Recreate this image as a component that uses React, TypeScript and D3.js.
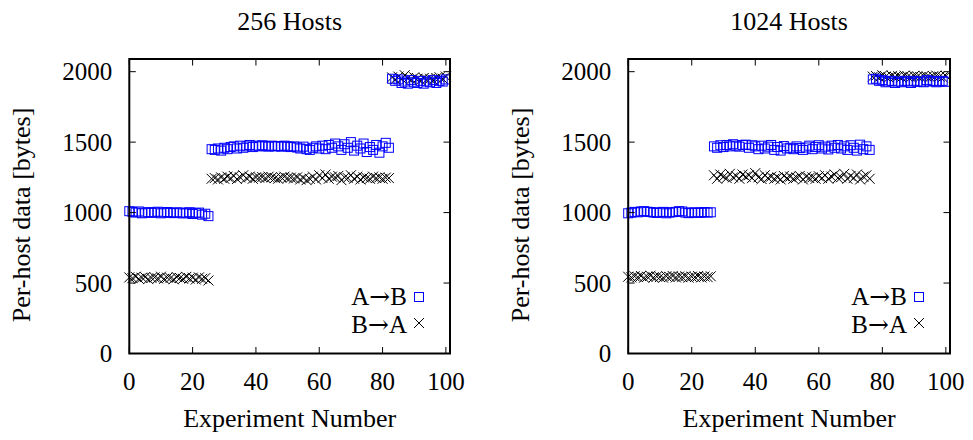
import React from "react";
import * as d3 from "d3";

const titles = ["256 Hosts", "1024 Hosts"];
const xTicks = [0, 20, 40, 60, 80, 100];
const yTicks = [0, 500, 1000, 1500, 2000];
const legendLabels = [["A", "\u2192", "B"], ["B", "\u2192", "A"]];

// 256 hosts, index = experiment number 0..100
const left_AB = [
  1010, 1005, 1000, 1008, 995, 1000, 1003, 998, 1002, 1006, 995, 1000, 1004, 998, 996, 1002, 1000, 994, 998, 1003, 990, 996, 1000, 985, 992, 975,
  1450, 1445, 1455, 1440, 1460, 1450, 1465, 1470, 1455, 1475,
  1460, 1470, 1480, 1465, 1475, 1470, 1478, 1472, 1468, 1475,
  1470, 1472, 1468, 1475, 1470, 1465, 1470, 1462, 1455, 1468,
  1450, 1445, 1460, 1470, 1455, 1475, 1450, 1480, 1460, 1490,
  1470, 1445, 1485, 1460, 1500, 1440, 1475, 1455, 1490, 1430, 1465,
  1445, 1480, 1425, 1470, 1495, 1460,
  1950, 1935, 1945, 1920, 1930, 1915, 1940, 1925, 1920, 1935, 1915, 1930, 1925, 1940, 1920, 1935, 1930, 1945,
];
const left_BA = [
  540, 535, 545, 530, 538, 542, 528, 536, 540, 533, 545, 530, 538, 535, 527, 542, 536, 530, 544, 532, 538, 525, 540, 530, 535, 518,
  1240, 1245, 1235, 1250, 1240, 1255, 1245, 1260, 1238, 1250,
  1265, 1245, 1255, 1240, 1250, 1248, 1252, 1245, 1255, 1250,
  1245, 1240, 1250, 1255, 1245, 1248, 1242, 1250, 1235, 1245,
  1230, 1240, 1255, 1235, 1265, 1245, 1270, 1240, 1255, 1250,
  1260, 1230, 1250, 1245, 1265, 1240, 1255, 1235, 1250, 1245, 1240,
  1255, 1245, 1250, 1240, 1248, 1245,
  1960, 1945, 1965, 1950, 1975, 1955, 1945, 1960, 1950, 1940, 1955, 1945, 1950, 1940, 1955, 1960, 1950, 1965,
];
// 1024 hosts
const right_AB = [
  995, 1000, 1005, 1002, 1008, 1010, 1006, 1004, 1000, 998, 1002, 1005, 995, 1000, 1003, 1005, 1010, 1008, 1000, 996, 1000, 1002, 998, 1000, 1004, 1000, 1002,
  1470, 1460, 1478, 1465, 1480, 1470, 1485, 1475, 1468, 1480,
  1482, 1460, 1478, 1470, 1450, 1475, 1455, 1468, 1480, 1445,
  1465, 1440, 1472, 1455, 1460, 1450, 1470, 1458, 1445, 1462,
  1475, 1450, 1465, 1478, 1455, 1468, 1448, 1475, 1460, 1480,
  1455, 1470, 1445, 1478, 1460, 1440, 1482, 1450, 1470, 1445,
  1945, 1950, 1935, 1940, 1925, 1930, 1935, 1920, 1930, 1925, 1935, 1930, 1920, 1935, 1928, 1930, 1925, 1940, 1930, 1935, 1925, 1930, 1935, 1928,
];
const right_BA = [
  545, 540, 548, 542, 550, 538, 545, 552, 540, 546, 542, 538, 548, 544, 550, 540, 546, 542, 548, 538, 545, 542, 550, 540, 546, 542, 548,
  1265, 1240, 1270, 1255, 1245, 1275, 1250, 1260, 1240, 1270,
  1255, 1265, 1245, 1280, 1250, 1238, 1265, 1245, 1255, 1240,
  1250, 1235, 1260, 1245, 1255, 1240, 1250, 1260, 1235, 1255,
  1245, 1250, 1240, 1258, 1245, 1265, 1240, 1255, 1270, 1245,
  1250, 1275, 1240, 1260, 1245, 1270, 1235, 1255, 1265, 1240,
  1965, 1970, 1960, 1975, 1965, 1958, 1970, 1962, 1968, 1960, 1972, 1965, 1960, 1970, 1966, 1962, 1970, 1965, 1960, 1968, 1972, 1965, 1960, 1970,
];

const FONT = "'Liberation Serif', 'Times New Roman', serif";
const ARROW_FONT = "'DejaVu Serif', serif";
const BLUE = "#0000ff";

function Panel({ x0, x1, title, ab, ba }: { x0: number; x1: number; title: string; ab: number[]; ba: number[] }) {
  const top = 59;
  const bottom = 353.5;
  const x = d3.scaleLinear().domain([0, 101.3]).range([x0, x1]);
  const y = d3.scaleLinear().domain([0, 2090]).range([bottom, top]);
  const tl = 6.5;
  const cx = (x0 + x1) / 2;
  const s = 4.5;
  const c = 5;
  const sq = (px: number, py: number, k: string) => (
    <rect key={k} x={px - s} y={py - s} width={2 * s} height={2 * s} fill="none" stroke={BLUE} strokeWidth={1} />
  );
  const cr = (px: number, py: number, k: string) => (
    <path key={k} d={`M${px - c},${py - c}L${px + c},${py + c}M${px - c},${py + c}L${px + c},${py - c}`} stroke="#000" strokeWidth={1} fill="none" />
  );
  const legendText = (parts: string[], yy: number) => (
    <text x={x1 - 43} y={yy} textAnchor="end" fontSize={25}>
      {parts[0]}
      <tspan fontFamily={ARROW_FONT} fontSize={25}>{parts[1]}</tspan>
      {parts[2]}
    </text>
  );
  return (
    <g fontFamily={FONT} fill="#000">
      <text x={cx} y={30} textAnchor="middle" fontSize={26}>{title}</text>
      {ba.map((v, i) => cr(x(i), y(v), "b" + i))}
      {ab.map((v, i) => sq(x(i), y(v), "a" + i))}
      {xTicks.map((t) => (
        <g key={"xt" + t}>
          <line x1={x(t)} x2={x(t)} y1={bottom} y2={bottom - tl} stroke="#000" strokeWidth={1} />
          <line x1={x(t)} x2={x(t)} y1={top} y2={top + tl} stroke="#000" strokeWidth={1} />
          <text x={x(t)} y={390} textAnchor="middle" fontSize={25}>{t}</text>
        </g>
      ))}
      {yTicks.map((t) => (
        <g key={"yt" + t}>
          <line x1={x0} x2={x0 + tl} y1={y(t)} y2={y(t)} stroke="#000" strokeWidth={1} />
          <line x1={x1} x2={x1 - tl} y1={y(t)} y2={y(t)} stroke="#000" strokeWidth={1} />
          <text x={x0 - 17} y={y(t) + 8.5} textAnchor="end" fontSize={25}>{t}</text>
        </g>
      ))}
      <rect x={x0} y={top} width={x1 - x0} height={bottom - top} fill="none" stroke="#000" strokeWidth={2} />
      <text x={cx} y={427} textAnchor="middle" fontSize={26}>Experiment Number</text>
      <text transform={`translate(${x0 - 99},215) rotate(-90)`} textAnchor="middle" fontSize={26}>Per-host data [bytes]</text>
      {legendText(legendLabels[0], 305)}
      {sq(x1 - 31, 297, "la")}
      {legendText(legendLabels[1], 333)}
      {cr(x1 - 31, 323, "lb")}
    </g>
  );
}

export default function App() {
  return (
    <svg width={973} height={440} style={{ position: "absolute", left: 0, top: 0, background: "#fff" }}>
      <rect width={973} height={440} fill="#fff" />
      <Panel x0={129.3} x1={450} title={titles[0]} ab={left_AB} ba={left_BA} />
      <Panel x0={628.2} x1={950} title={titles[1]} ab={right_AB} ba={right_BA} />
    </svg>
  );
}
